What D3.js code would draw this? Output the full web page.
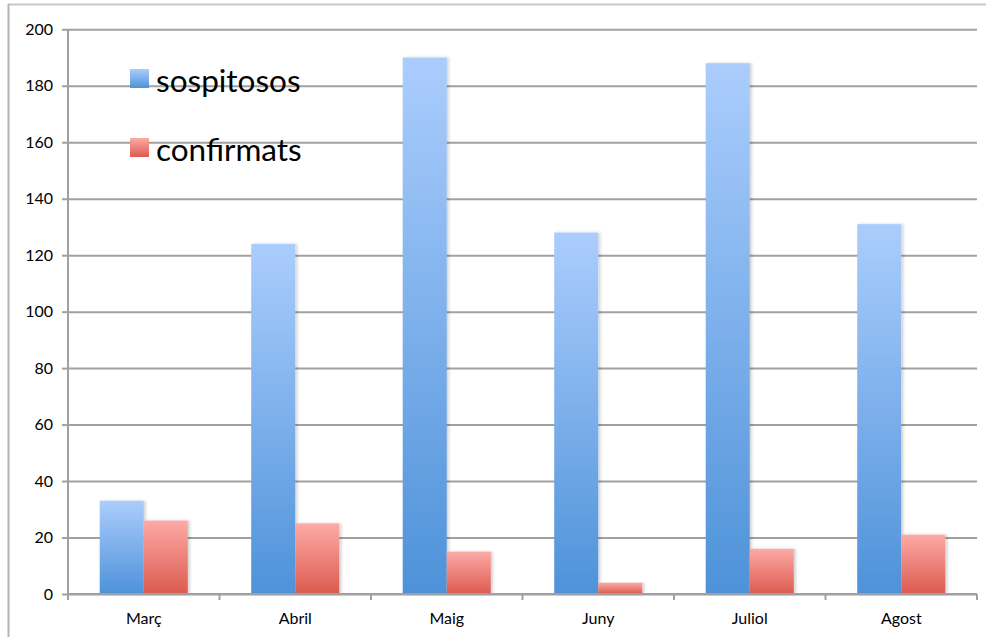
<!DOCTYPE html>
<html><head><meta charset="utf-8">
<script src="https://cdn.jsdelivr.net/npm/d3@7"></script>
<style>
html,body{margin:0;padding:0;background:#fff;}
svg{display:block;font-family:Lato,"Open Sans",sans-serif;}
</style></head>
<body><svg id="c" width="986" height="637"></svg>
<script>
const categories = ["Març","Abril","Maig","Juny","Juliol","Agost"];
const seriesNames = ["sospitosos","confirmats"];
const sospitosos = [33,124,190,128,188,131];
const confirmats = [26,25,15,4,16,21];
const yTicks = [0,20,40,60,80,100,120,140,160,180,200];

(function(){
const svg = d3.select("#c");
const pL = 68, pR = 977, pT = 29.3, pB = 594;

// frame (top & left edges)
svg.append("line").attr("x1",8).attr("x2",986).attr("y1",4.5).attr("y2",4.5).attr("stroke","#c8c8c8").attr("stroke-width",2);
svg.append("line").attr("x1",8.5).attr("x2",8.5).attr("y1",4).attr("y2",637).attr("stroke","#b4b4b4").attr("stroke-width",2);

const defs = svg.append("defs");
function grad(id, c0, c1){
  const g = defs.append("linearGradient").attr("id",id).attr("x1",0).attr("y1",0).attr("x2",0).attr("y2",1);
  g.append("stop").attr("offset","0%").attr("stop-color",c0);
  g.append("stop").attr("offset","100%").attr("stop-color",c1);
}
grad("gBlue","#abcdfd","#4e92d9");
grad("gRed","#fdaaa6","#dc5a4f");
const f = defs.append("filter").attr("id","sh").attr("x","-20%").attr("y","-5%").attr("width","150%").attr("height","115%");
f.append("feDropShadow").attr("dx",2).attr("dy",0).attr("stdDeviation",1.5).attr("flood-color","#000").attr("flood-opacity",0.18);

const x = d3.scaleBand().domain(categories).range([pL,pR]).padding(0);
const xs = d3.scaleBand().domain(seriesNames).range([0,x.bandwidth()]).paddingInner(0).paddingOuter(0.72);
const y = d3.scaleLinear().domain([0,200]).range([pB,pT]);

// gridlines + y axis
const yAxis = d3.axisLeft(y).tickValues(yTicks).tickSize(6).tickPadding(9).tickFormat(d3.format("d"));
const ga = svg.append("g").attr("transform",`translate(${pL},0)`).call(yAxis);
ga.select(".domain").remove();
ga.selectAll(".tick line").attr("stroke","#a0a0a0").attr("stroke-width",2);
ga.selectAll(".tick").append("line").attr("x1",0).attr("x2",pR-pL).attr("stroke","#a0a0a0").attr("stroke-width",2);
ga.selectAll(".tick text").attr("font-size",16).attr("fill","#000").attr("font-family","Lato,'Open Sans',sans-serif");
svg.append("line").attr("x1",pL).attr("x2",pL).attr("y1",pT).attr("y2",pB+6).attr("stroke","#a0a0a0").attr("stroke-width",2);

// bars
const data = categories.map((c,i)=>({c, vals:[{s:"sospitosos",v:sospitosos[i]},{s:"confirmats",v:confirmats[i]}]}));
const grp = svg.append("g").selectAll("g").data(data).join("g").attr("transform",d=>`translate(${x(d.c)},0)`);
grp.selectAll("rect").data(d=>d.vals).join("rect")
  .attr("x",d=>xs(d.s)).attr("width",xs.bandwidth())
  .attr("y",d=>y(d.v)).attr("height",d=>pB-y(d.v))
  .attr("fill",d=>d.s==="sospitosos"?"url(#gBlue)":"url(#gRed)")
  .attr("filter","url(#sh)");

// x axis
const xAxis = d3.axisBottom(x).tickSize(0).tickPadding(19);
const gx = svg.append("g").attr("transform",`translate(0,${pB})`).call(xAxis);
gx.select(".domain").attr("stroke","#a0a0a0").attr("stroke-width",2).attr("d",`M${pL},0H${pR}`);
gx.selectAll(".tick text").attr("font-size",16).attr("fill","#000").attr("font-family","Lato,'Open Sans',sans-serif");
gx.selectAll(".sep").data(categories.concat(["_end"])).join("line").attr("class","sep")
  .attr("x1",(d,i)=>pL+i*x.step()).attr("x2",(d,i)=>pL+i*x.step())
  .attr("y1",0).attr("y2",6).attr("stroke","#a0a0a0").attr("stroke-width",2);

// legend
const lg = svg.append("g");
seriesNames.forEach((s,i)=>{
  const yy = 69 + i*69;
  lg.append("rect").attr("x",130).attr("y",yy).attr("width",19).attr("height",19)
    .attr("fill", i===0?"url(#gBlue)":"url(#gRed)");
  lg.append("text").attr("x",156).attr("y",yy+23).attr("font-size",31.5).attr("fill","#000").text(s);
});
})();
</script></body></html>
